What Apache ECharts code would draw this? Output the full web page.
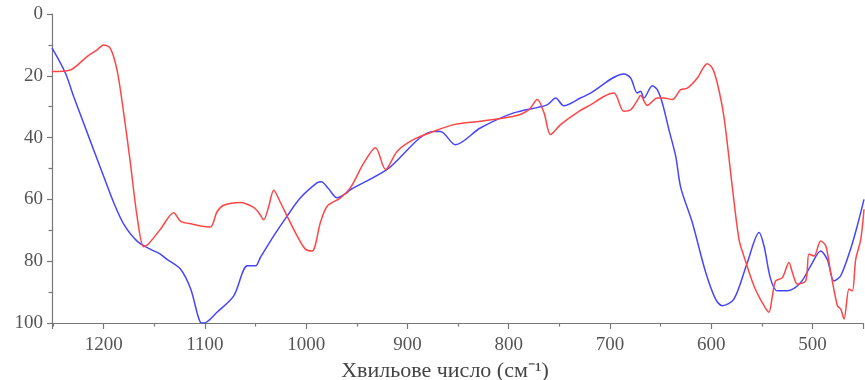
<!DOCTYPE html>
<html>
<head>
<meta charset="utf-8">
<script src="https://cdn.jsdelivr.net/npm/echarts@6/dist/echarts.min.js"></script>
<style>
html,body{margin:0;padding:0;background:#fff;}
#c{width:865px;height:380px;}
</style>
</head>
<body>
<div id="c"></div>
<script>
// Wavenumber (cm^-1) and transmittance-like values
var blueWn = [1251,1237.8,1229.6,1219.8,1209.9,1200,1190,1180,1167,1154,1144,1137.4,1124,1114,1104.4,1101,1088,1071.5,1058,1050,1045.2,1032,1018.8,1005.6,989,985,978,969.4,959.5,956,920,874,867.3,852.5,828,795,762,753.6,745.5,729,719.1,686.2,679.5,672.9,669.7,666.4,658.1,653.2,648.2,641.7,635,630,618.6,605.4,595.6,589,577.5,564.2,552.7,547.8,541.2,534.6,524.7,511.5,501.7,491.8,485.2,478.7,472,462.3,455.7,449];
var blueVal = [11,19.1,26.7,35.3,43.9,52.5,61.1,68.1,73.5,76.1,77.7,79.4,82.6,89,99.8,100,96.5,91.2,81.5,81.5,78.8,71.8,65.4,59.5,54.6,54.3,56.5,59.5,57.8,56.8,50.3,38,38,42.3,36.9,32,29.4,27.2,29.7,27.2,25.6,19.4,20.7,25.6,25,27.2,23.2,24.5,28.8,37.4,46,56.2,67.5,83.6,92.3,94.4,92.3,80.4,70.7,75,85.8,89.6,89.6,86.9,81.5,76.7,79.5,86.4,84.7,76.1,68.6,60];

var redWn = [1251,1233,1216.4,1206.5,1200,1193.4,1186.8,1180.2,1173.6,1167,1160.5,1156,1144,1130.8,1124.2,1111,1104.4,1094.5,1088,1081.4,1064.9,1051.8,1046.8,1041.9,1036.9,1032,1025.4,1018.8,1008.9,1000.7,994.1,985.9,979.2,966,956.2,943,931.5,921.6,910,893.7,874,854,828,795,780,771.7,765,758.6,748.7,730.6,719.1,705.9,696,686.2,679.5,672.9,669.7,663,653.2,646.6,638.3,630.1,623.5,613.6,603.8,598.8,593.9,587.4,579,572.5,567.7,557.7,547.8,542.9,539.5,536.3,529.6,523.1,519.8,514.8,506.6,503.3,498.4,491.8,486.8,481.9,475.3,472,468.7,463.8,460.5,457.2,452.2,449];
var redVal = [18.6,18.1,13.8,11.6,10,11.1,18.1,32,48.2,65.4,75.3,74.5,69.7,64.3,67,68.1,68.6,68.9,64,61.9,61,62.6,64.3,66.6,62.2,57,61,65.4,71.8,76.1,76.7,67.5,62.2,59.5,56.2,48.2,43.3,50.3,44.4,40.6,38,35.8,34.7,33.1,31,27.7,32,39,35.8,31.5,29.4,26.7,25.6,31.5,31,28,26.4,29.6,27.2,27.2,27.7,24.5,24,20.7,16.1,17.5,22.4,33.1,56.2,72.9,78.3,88,94.4,96.5,91.2,86.4,85.3,80.4,83.6,87.4,86.4,77.7,78.3,73.5,75,83.6,94.4,95.5,98.7,89,89.6,79.4,72.9,63.2];

var xTitle = 'Хвильове число (см⁻¹)';

function pairs(xs, ys){ var out=[]; for(var i=0;i<xs.length;i++){ out.push([xs[i], ys[i]]); } return out; }

var chart = echarts.init(document.getElementById('c'), null, {renderer:'canvas'});
var font = 'Liberation Serif';
var axisCol = '#777';
chart.setOption({
  animation:false,
  backgroundColor:'#fff',
  textStyle:{fontFamily:font},
  grid:{left:52,right:2,top:14,bottom:57,containLabel:false,outerBoundsMode:'none'},
  xAxis:{
    type:'value', inverse:true, min:450, max:1251, splitNumber:8,
    name:xTitle, nameLocation:'middle', nameGap:35,
    nameTextStyle:{fontFamily:font,fontSize:22,color:'#444',padding:[0,25,0,0]},
    axisLine:{onZero:false,lineStyle:{color:axisCol,width:1.2}},
    axisTick:{show:true,inside:false,length:6,lineStyle:{color:axisCol,width:1.2}},
    minorTick:{show:true,splitNumber:2,length:3.5,lineStyle:{color:axisCol,width:1.2}},
    axisLabel:{fontFamily:font,fontSize:19,color:'#555',margin:13,showMinLabel:false,showMaxLabel:false,
      formatter:function(v){return String(v);}},
    splitLine:{show:false}
  },
  yAxis:{
    type:'value', inverse:true, min:0, max:100, interval:20,
    axisLine:{show:true,onZero:false,lineStyle:{color:axisCol,width:1.2}},
    axisTick:{show:true,inside:false,length:5,lineStyle:{color:axisCol,width:1.2}},
    minorTick:{show:true,splitNumber:2,length:3.5,lineStyle:{color:axisCol,width:1.2}},
    axisLabel:{fontFamily:font,fontSize:19,color:'#555',margin:9,formatter:function(v){return String(v);}},
    splitLine:{show:false}
  },
  series:[
    {type:'line',data:pairs(blueWn,blueVal),showSymbol:false,smooth:0.3,
     lineStyle:{color:'#4646ff',width:1.5},itemStyle:{color:'#4646ff'}},
    {type:'line',data:pairs(redWn,redVal),showSymbol:false,smooth:0.3,
     lineStyle:{color:'#ff4646',width:1.5},itemStyle:{color:'#ff4646'}}
  ]
});
</script>
</body>
</html>
